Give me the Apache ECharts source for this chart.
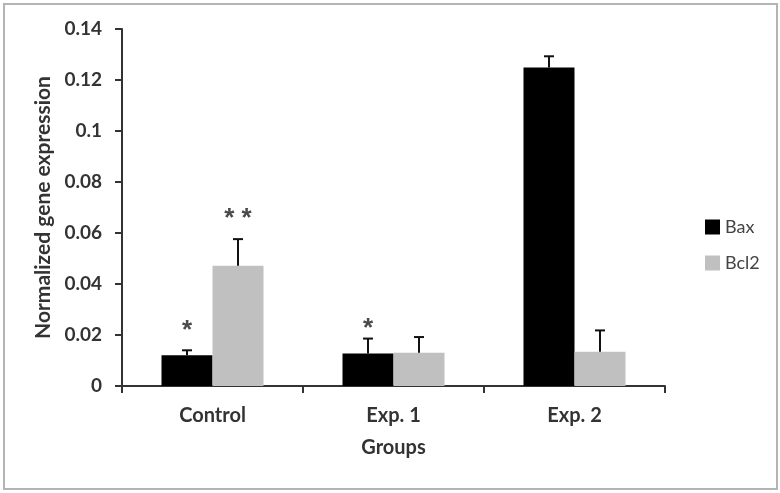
<!DOCTYPE html>
<html><head><meta charset="utf-8">
<script src="https://cdn.jsdelivr.net/npm/echarts@6/dist/echarts.min.js"></script>
<style>html,body{margin:0;padding:0;background:#fff}#c{width:780px;height:493px}</style>
</head><body><div id="c"></div>
<script>
const categories = ['Control', 'Exp. 1', 'Exp. 2'];
const seriesNames = ['Bax', 'Bcl2'];
const baxValues = [0.0121, 0.0127, 0.1249];
const baxErrTop = [0.0140, 0.0186, 0.1293];
const bcl2Values = [0.0472, 0.0130, 0.0134];
const bcl2ErrTop = [0.0576, 0.0192, 0.0218];
const baxSig = ['*', '*', ''];
const bcl2Sig = ['**', '', ''];
const baxSigY = [0.0238, 0.0246, 0];
const bcl2SigY = [0.0678, 0, 0];
const yTicks = [0, 0.02, 0.04, 0.06, 0.08, 0.1, 0.12, 0.14];

const FONT = 'Lato';
const BAR_W = 51;

function errSeries(vals, errs, sig, sigY, offset) {
  return {
    type: 'custom',
    silent: true,
    z: 5,
    data: vals.map((v, i) => [i, v, errs[i], sigY[i]]),
    renderItem: function (params, api) {
      const i = api.value(0);
      const x = api.coord([i, 0])[0] + offset;
      const y0 = api.coord([i, api.value(1)])[1];
      const y1 = api.coord([i, api.value(2)])[1];
      const children = [
        {type: 'line', shape: {x1: x, y1: y0, x2: x, y2: y1}, style: {stroke: '#111', lineWidth: 2}},
        {type: 'line', shape: {x1: x - 5, y1: y1, x2: x + 5, y2: y1}, style: {stroke: '#111', lineWidth: 2}}
      ];
      const s = sig[params.dataIndex];
      if (s) {
        const ys = api.coord([i, sigY[params.dataIndex]])[1];
        children.push({type: 'text', style: {text: s.split('').join(' '), x: x, y: ys + 6, align: 'center', verticalAlign: 'middle',
          font: 'bold 26px "Liberation Sans"', fill: '#4a4a4a'}});
      }
      return {type: 'group', children: children};
    }
  };
}

const chart = echarts.init(document.getElementById('c'), null, {renderer: 'canvas'});
chart.setOption({
  animation: false,
  backgroundColor: '#fff',
  graphic: [{type: 'rect', shape: {x: 4, y: 4, width: 773, height: 485}, style: {fill: 'none', stroke: '#b4b4b4', lineWidth: 2}, z: -1}],
  grid: {left: 122, right: 115, top: 29, bottom: 107},
  legend: {
    orient: 'vertical', left: 700, top: 213, itemWidth: 15, itemHeight: 15, itemGap: 18, itemTextGap: 3,
    icon: 'rect', data: seriesNames,
    textStyle: {fontFamily: FONT, fontSize: 18, color: '#444'}
  },
  xAxis: {
    type: 'category', data: categories, boundaryGap: true,
    axisLine: {lineStyle: {color: '#333', width: 2}},
    axisTick: {show: true, length: 7, lineStyle: {color: '#333', width: 2}},
    axisLabel: {margin: 20, fontFamily: FONT, fontSize: 20, fontWeight: 'bold', color: '#333'},
    name: 'Groups', nameLocation: 'middle', nameGap: 52,
    nameTextStyle: {fontFamily: FONT, fontSize: 20, fontWeight: 'bold', color: '#333'}
  },
  yAxis: {
    type: 'value', min: 0, max: 0.14, interval: 0.02,
    axisLine: {show: true, lineStyle: {color: '#333', width: 2}},
    axisTick: {show: true, length: 7, lineStyle: {color: '#333', width: 2}},
    splitLine: {show: false},
    axisLabel: {margin: 20, fontFamily: FONT, fontSize: 19, fontWeight: 'bold', color: '#333',
      formatter: v => { const t = yTicks.find(k => Math.abs(k - v) < 1e-9); return String(t !== undefined ? t : v); }},
    name: 'Normalized gene expression', nameLocation: 'middle', nameGap: 66,
    nameTextStyle: {fontFamily: FONT, fontSize: 21, fontWeight: 'bold', color: '#333'}
  },
  series: [
    {name: 'Bax', type: 'bar', data: baxValues, barWidth: BAR_W, barGap: '0%', itemStyle: {color: '#000'}},
    {name: 'Bcl2', type: 'bar', data: bcl2Values, barWidth: BAR_W, barGap: '0%', itemStyle: {color: '#c0c0c0'}},
    errSeries(baxValues, baxErrTop, baxSig, baxSigY, -BAR_W / 2),
    errSeries(bcl2Values, bcl2ErrTop, bcl2Sig, bcl2SigY, BAR_W / 2)
  ]
});
</script></body></html>
